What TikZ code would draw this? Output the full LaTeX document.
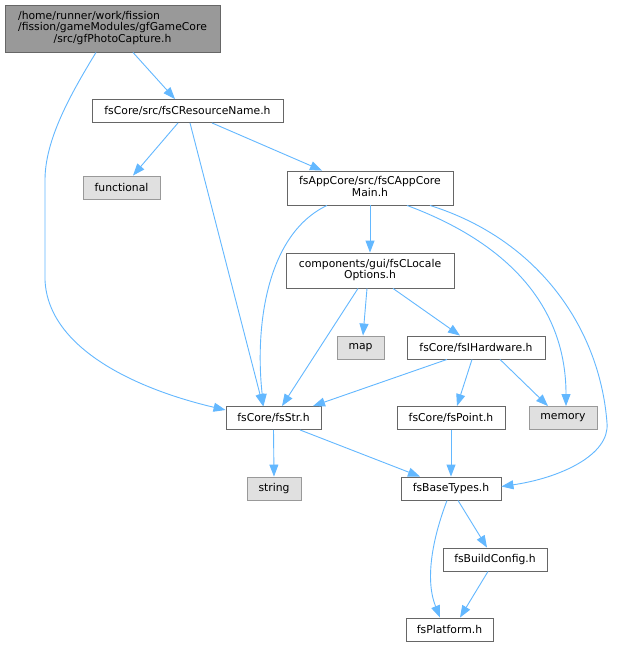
\documentclass[tikz,border=0pt]{standalone}
\usepackage{fontspec}
\setmainfont{DejaVu Sans}
\usetikzlibrary{arrows.meta}
\definecolor{edgec}{HTML}{63B8FF}
\definecolor{bordc}{HTML}{666666}
\definecolor{extb}{HTML}{999999}
\definecolor{extf}{HTML}{E0E0E0}
\definecolor{rootf}{HTML}{999999}
\newcommand\mlbl[2]{\begin{tabular}{@{}l@{}}#1\\\multicolumn{1}{@{}c@{}}{#2}\end{tabular}}
\begin{document}
\begin{tikzpicture}[x=1pt,y=-1pt,
  file/.style={draw=bordc, fill=white, line width=0.9pt, inner sep=0pt, minimum height=23pt, font=\fontsize{10.8}{11.5}\selectfont},
  ext/.style={file, draw=extb, fill=extf},
  rootbox/.style={file, fill=rootf},
  dep/.style={draw=edgec, line width=0.9pt, -{Triangle[length=12pt,width=9pt]}}]
\useasboundingbox[fill=white] (0,0) rectangle (617,647);

\node[rootbox, minimum width=215pt, minimum height=47pt] (root) at (112.5,28.5) {\mlbl{/home/runner/work/fission\\/fission/gameModules/gfGameCore}{/src/gfPhotoCapture.h}};
\node[file, minimum width=191pt] (res) at (187.5,111) {fsCore/src/fsCResourceName.h};
\node[ext, minimum width=77pt] (func) at (121.5,187.5) {functional};
\node[file, minimum width=166pt, minimum height=34pt] (app) at (370,188) {\mlbl{fsAppCore/src/fsCAppCore}{Main.h}};
\node[file, minimum width=168pt, minimum height=35pt] (comp) at (370,270.5) {\mlbl{components/gui/fsCLocale}{Options.h}};
\node[ext, minimum width=47pt] (map) at (360.5,347.5) {map};
\node[file, minimum width=138pt] (hw) at (476,347.5) {fsCore/fsIHardware.h};
\node[file, minimum width=95pt] (str) at (273.5,418) {fsCore/fsStr.h};
\node[file, minimum width=108pt] (point) at (451,418) {fsCore/fsPoint.h};
\node[ext, minimum width=68pt] (mem) at (563,418) {memory};
\node[ext, minimum width=54pt] (string) at (274,488.5) {string};
\node[file, minimum width=100pt] (base) at (451,488.5) {fsBaseTypes.h};
\node[file, minimum width=104pt] (build) at (495,559.5) {fsBuildConfig.h};
\node[file, minimum width=87pt] (plat) at (449.5,629.5) {fsPlatform.h};

\draw[dep] ([xshift=20.5pt]root.south) -- ([xshift=-12.5pt]res.north);
\draw[dep] ([xshift=-16.5pt]root.south) .. controls (70,95) and (45,140) .. (45,180) -- (45,280) .. controls (48,350) and (140,390) .. ([yshift=8pt]str.west);
\draw[dep] ([xshift=-9.5pt]res.south) -- ([xshift=11.5pt]func.north);
\draw[dep] ([xshift=2.5pt]res.south) -- ([xshift=-10.5pt]str.north);
\draw[dep] ([xshift=24.5pt]res.south) -- ([xshift=-48pt]app.north);
\draw[dep] (app.south) -- (comp.north);
\draw[dep] ([xshift=-43pt]app.south) .. controls (265,235) and (255,330) .. ([xshift=-10pt]str.north);
\draw[dep] ([xshift=37pt]app.south) .. controls (500,240) and (566,300) .. ([xshift=3pt]mem.north);
\draw[dep] ([xshift=60pt]app.south) .. controls (540,240) and (600,330) .. (607,423) .. controls (610,455) and (560,478) .. ([yshift=2pt]base.east);
\draw[dep] ([xshift=-12pt]comp.south) -- ([xshift=8.5pt]str.north);
\draw[dep] ([xshift=-3pt]comp.south) -- ([xshift=2.5pt]map.north);
\draw[dep] ([xshift=23pt]comp.south) -- ([xshift=-16pt]hw.north);
\draw[dep] ([xshift=-29pt]hw.south) -- ([xshift=39.5pt]str.north);
\draw[dep] ([xshift=-4pt]hw.south) -- ([xshift=6pt]point.north);
\draw[dep] ([xshift=24pt]hw.south) -- ([xshift=-15pt]mem.north);
\draw[dep] (point.south) -- (base.north);
\draw[dep] ([xshift=26.5pt]str.south) -- ([xshift=-31pt]base.north);
\draw[dep] (str.south) -- (string.north);
\draw[dep] ([xshift=7pt]base.south) -- ([xshift=-8pt]build.north);
\draw[dep] ([xshift=-4pt]base.south) .. controls (432,540) and (425,580) .. ([xshift=-9.5pt]plat.north);
\draw[dep] ([xshift=-7pt]build.south) -- ([xshift=10.5pt]plat.north);
\end{tikzpicture}
\end{document}
